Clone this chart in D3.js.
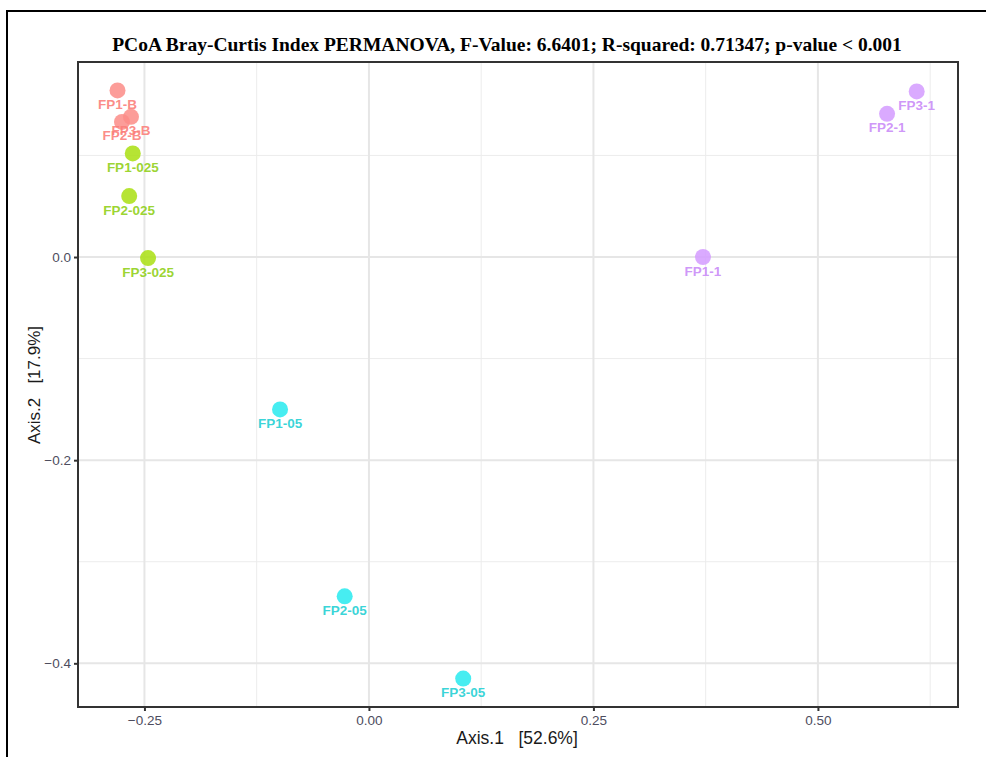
<!DOCTYPE html>
<html>
<head>
<meta charset="utf-8">
<script src="https://cdn.jsdelivr.net/npm/d3@7"></script>
<style>
  body { margin: 0; background: #fff; }
  svg { display: block; }
</style>
</head>
<body>
<div id="chart"></div>
<script>
// PCoA coordinates
const samples = ["FP1-B", "FP2-B", "FP3-B", "FP1-025", "FP2-025", "FP3-025",
                 "FP1-05", "FP2-05", "FP3-05", "FP1-1", "FP2-1", "FP3-1"];
const groups  = ["B", "B", "B", "025", "025", "025", "05", "05", "05", "1", "1", "1"];
const axis1   = [-0.280, -0.275, -0.265, -0.263, -0.267, -0.246,
                 -0.099, -0.027, 0.105, 0.372, 0.577, 0.610];
const axis2   = [0.164, 0.133, 0.138, 0.102, 0.060, -0.001,
                 -0.150, -0.334, -0.415, 0.000, 0.141, 0.163];

const groupNames = ["B", "025", "05", "1"];
const pointColors = ["#fb8c87", "#a9df10", "#27eaee", "#d49bff"];
const labelColors = ["#fb7d79", "#8fcf16", "#1fcfd3", "#c98af7"];

const xTicks = [-0.25, 0, 0.25, 0.5];
const yTicks = [-0.4, -0.2, 0.0];
const xMinor = [-0.125, 0.125, 0.375, 0.625];
const yMinor = [-0.3, -0.1, 0.1];

const title = "PCoA Bray-Curtis Index PERMANOVA, F-Value: 6.6401; R-squared: 0.71347; p-value < 0.001";

const W = 986, H = 757;
const panel = { left: 78, top: 62, right: 958, bottom: 707 };
const SANS = "Liberation Sans, Arial, sans-serif";

const svg = d3.select("#chart").append("svg").attr("width", W).attr("height", H);

// outer frame of the exported figure
svg.append("path")
  .attr("d", `M7,${H} V11 H${W}`)
  .attr("fill", "none")
  .attr("stroke", "#000")
  .attr("stroke-width", 2);

const x = d3.scaleLinear().domain([-0.324, 0.656]).range([panel.left, panel.right]);
const y = d3.scaleLinear().domain([-0.443, 0.192]).range([panel.bottom, panel.top]);

const color = d3.scaleOrdinal().domain(groupNames).range(pointColors);
const labelColor = d3.scaleOrdinal().domain(groupNames).range(labelColors);

const grid = svg.append("g");
grid.selectAll(".minor-x").data(xMinor).enter().append("line")
  .attr("x1", d => x(d)).attr("x2", d => x(d))
  .attr("y1", panel.top).attr("y2", panel.bottom)
  .attr("stroke", "#ececec").attr("stroke-width", 1);
grid.selectAll(".minor-y").data(yMinor).enter().append("line")
  .attr("y1", d => y(d)).attr("y2", d => y(d))
  .attr("x1", panel.left).attr("x2", panel.right)
  .attr("stroke", "#ececec").attr("stroke-width", 1);
grid.selectAll(".major-x").data(xTicks).enter().append("line")
  .attr("x1", d => x(d)).attr("x2", d => x(d))
  .attr("y1", panel.top).attr("y2", panel.bottom)
  .attr("stroke", "#e6e6e6").attr("stroke-width", 2);
grid.selectAll(".major-y").data(yTicks).enter().append("line")
  .attr("y1", d => y(d)).attr("y2", d => y(d))
  .attr("x1", panel.left).attr("x2", panel.right)
  .attr("stroke", "#e6e6e6").attr("stroke-width", 2);

// points
const pts = samples.map((s, i) => ({ name: s, group: groups[i], a1: axis1[i], a2: axis2[i] }));

svg.append("g").selectAll("circle").data(pts).enter().append("circle")
  .attr("cx", d => x(d.a1))
  .attr("cy", d => y(d.a2))
  .attr("r", 8)
  .attr("fill", d => color(d.group))
  .attr("fill-opacity", 0.85);

svg.append("g").selectAll("text").data(pts).enter().append("text")
  .attr("x", d => x(d.a1))
  .attr("y", d => y(d.a2) + 18.5)
  .attr("text-anchor", "middle")
  .attr("font-family", SANS)
  .attr("font-weight", "bold")
  .attr("font-size", 13.5)
  .attr("fill", d => labelColor(d.group))
  .attr("fill-opacity", 0.9)
  .text(d => d.name);

// panel border
svg.append("rect")
  .attr("x", panel.left).attr("y", panel.top)
  .attr("width", panel.right - panel.left).attr("height", panel.bottom - panel.top)
  .attr("fill", "none").attr("stroke", "#333").attr("stroke-width", 2);

// axes
const xAxis = svg.append("g")
  .attr("transform", `translate(0,${panel.bottom})`)
  .call(d3.axisBottom(x).tickValues(xTicks).tickFormat(d3.format(".2f")).tickSizeOuter(0).tickSize(4));
const yAxis = svg.append("g")
  .attr("transform", `translate(${panel.left},0)`)
  .call(d3.axisLeft(y).tickValues(yTicks).tickFormat(d3.format(".1f")).tickSizeOuter(0).tickSize(4));

[xAxis, yAxis].forEach(g => {
  g.select(".domain").remove();
  g.selectAll(".tick line").attr("stroke", "#333").attr("stroke-width", 2);
  g.selectAll(".tick text")
    .attr("font-family", SANS)
    .attr("font-size", 13.5)
    .attr("fill", "#4d4d5e");
});
xAxis.selectAll(".tick text").attr("dy", "0.85em");

svg.append("text")
  .attr("x", 517)
  .attr("y", 744)
  .attr("text-anchor", "middle")
  .attr("font-family", SANS)
  .attr("font-size", 17.5)
  .attr("fill", "#1a1a1a")
  .attr("xml:space", "preserve")
  .text("Axis.1   [52.6%]");

svg.append("text")
  .attr("transform", `translate(40,385) rotate(-90)`)
  .attr("text-anchor", "middle")
  .attr("font-family", SANS)
  .attr("font-size", 17)
  .attr("fill", "#1a1a1a")
  .attr("xml:space", "preserve")
  .text("Axis.2   [17.9%]");

svg.append("text")
  .attr("x", 507)
  .attr("y", 51)
  .attr("text-anchor", "middle")
  .attr("font-family", "Liberation Serif, Times New Roman, serif")
  .attr("font-weight", "bold")
  .attr("font-size", 19.5)
  .attr("fill", "#000")
  .text(title);
</script>
</body>
</html>
